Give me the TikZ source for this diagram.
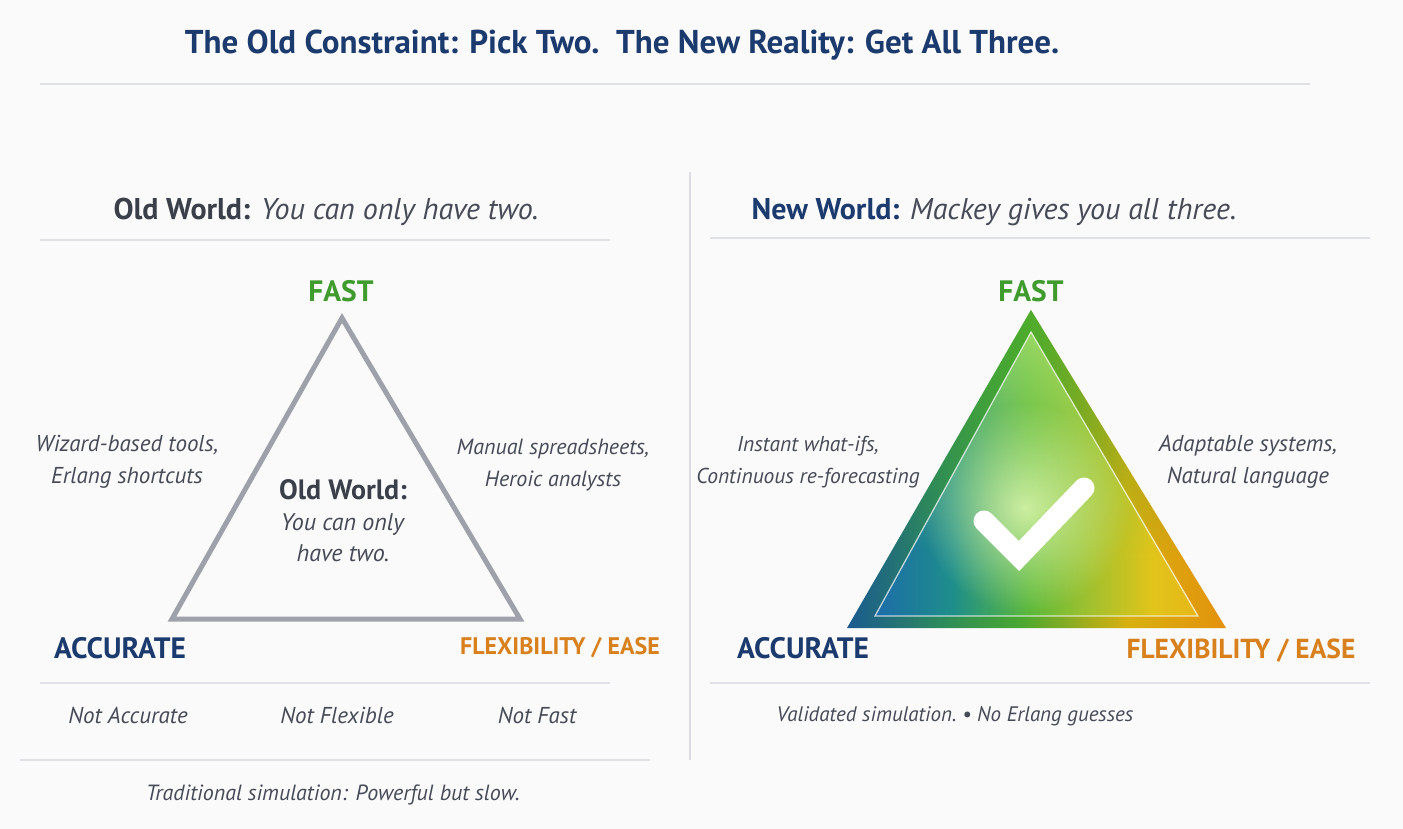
\documentclass[tikz,border=0pt]{standalone}
\usepackage{fontspec}
\setmainfont{PT Sans}
\usetikzlibrary{fadings}
\definecolor{bg}{HTML}{FAFAFB}
\definecolor{navy}{HTML}{1B3A6E}
\definecolor{txt}{HTML}{474B57}
\definecolor{headgray}{HTML}{3A3F4A}
\definecolor{fastgreen}{HTML}{3E9B2C}
\definecolor{flexorange}{HTML}{D8801C}
\definecolor{tri}{HTML}{9EA1AA}
\definecolor{rulec}{HTML}{E0E0E7}
\definecolor{divc}{HTML}{DCDCE2}
\definecolor{gA}{HTML}{1A4C9E}
\definecolor{gA2}{HTML}{1C64B0}
\definecolor{gB}{HTML}{1E8E8A}
\definecolor{gC}{HTML}{5CB83A}
\definecolor{gC2}{HTML}{98C030}
\definecolor{gD}{HTML}{E2C41A}
\definecolor{gE}{HTML}{EC9A12}
\definecolor{gF}{HTML}{EA8A10}
\definecolor{bA}{HTML}{123A85}
\definecolor{bA2}{HTML}{1A5A90}
\definecolor{bB}{HTML}{2E8C5A}
\definecolor{bC}{HTML}{4AA830}
\definecolor{bD}{HTML}{D8B010}
\definecolor{bE}{HTML}{E8860A}
\definecolor{bF}{HTML}{E07808}
\definecolor{toplight}{HTML}{C0EC80}
\definecolor{midgreen}{HTML}{56B632}
\definecolor{bordergreen}{HTML}{4CAE2C}
\definecolor{bordergreen2}{HTML}{3E9E30}
\definecolor{glowc}{HTML}{E8FBB8}
\pgfdeclarehorizontalshading{innergrad}{100bp}{color(0bp)=(gA); color(22bp)=(gA2); color(37bp)=(gB); color(49bp)=(gC); color(57bp)=(gC2); color(68bp)=(gD); color(90bp)=(gE); color(100bp)=(gF)}
\pgfdeclarehorizontalshading{bordergrad}{100bp}{color(0bp)=(bA); color(25bp)=(bA2); color(38bp)=(bB); color(48bp)=(bC); color(62bp)=(bD); color(80bp)=(bE); color(100bp)=(bF)}
\pgfdeclarehorizontalshading{rulegrad}{100bp}{color(0bp)=(bg); color(25bp)=(rulec); color(75bp)=(rulec); color(100bp)=(bg)}
\pgfdeclareverticalshading{topmasksh}{100bp}{color(0bp)=(black); color(36bp)=(black); color(100bp)=(white)}
\pgfdeclarefading{topmask}{\pgfuseshading{topmasksh}}
\tikzfading[name=fadeout, inner color=transparent!0, outer color=transparent!100]
\tikzset{
  titletext/.style={font=\fontsize{33}{38}\selectfont\bfseries, text=navy},
  headtext/.style={font=\fontsize{30}{34}\selectfont, text=txt, anchor=west},
  vertexlbl/.style={font=\fontsize{29.5}{34}\selectfont\bfseries},
  sidelbl/.style={font=\fontsize{23}{32}\selectfont\itshape, text=txt, align=center},
  notelbl/.style={font=\fontsize{23}{28}\selectfont\itshape, text=txt},
  seprule/.style={shading=rulegrad},
}
\newcommand\sepline[3]{\shade[seprule] (#1,#3-0.8) rectangle (#2,#3+0.8);}
\begin{document}
\begin{tikzpicture}[x=1pt,y=-1pt]
\useasboundingbox (0,0) rectangle (1403,829);
\fill[bg] (0,0) rectangle (1403,829);

% title
\node[titletext] (title) at (622,45) {The Old Constraint: Pick Two.\ \ The New Reality: Get All Three.};
\sepline{40}{1310}{84}
\draw[divc, line width=1.3] (690,172) -- (690,760);

% ---------- left panel ----------
\node[headtext] (oldhead) at (110,212) {\textcolor{headgray}{\textbf{Old World:}} \textit{You can only have two.}};
\sepline{40}{610}{240}

\coordinate (LA) at (342,318);
\coordinate (LB) at (172,619);
\coordinate (LC) at (520,619);
\draw[tri, line width=5, line join=miter] (LA) -- (LB) -- (LC) -- cycle;

\node[vertexlbl, text=fastgreen] (lfast) at (341,291) {FAST};
\node[vertexlbl, text=navy] (lacc) at (120,648) {ACCURATE};
\node[vertexlbl, text=flexorange, font=\fontsize{24}{28}\selectfont\bfseries] (lflex) at (560,648) {FLEXIBILITY / EASE};

\node[sidelbl] (lleft) at (127,462) {Wizard-based tools,\\Erlang shortcuts};
\node[sidelbl, font=\fontsize{22}{32}\selectfont\itshape] (lright) at (553,465) {Manual spreadsheets,\\Heroic analysts};
\node[sidelbl, font=\fontsize{24}{31}\selectfont] (lcenter) at (343,521)
  {\textcolor{headgray}{\fontsize{28}{31}\selectfont\bfseries Old World:}\\\textit{You can only}\\\textit{have two.}};

\sepline{40}{610}{683}
\node[notelbl] (nacc) at (128,715) {Not Accurate};
\node[notelbl] (nflex) at (337,715) {Not Flexible};
\node[notelbl] (nfast) at (537,715) {Not Fast};
\sepline{20}{650}{760}
\node[notelbl, font=\fontsize{22}{26}\selectfont\itshape] (trad) at (333,795) {Traditional simulation: Powerful but slow.};

% ---------- right panel ----------
\node[headtext] (newhead) at (748,212) {\textcolor{navy}{\textbf{New World:}} \textit{Mackey gives you all three.}};
\sepline{710}{1370}{238}

\coordinate (RA) at (1031,310);
\coordinate (RB) at (847,628);
\coordinate (RC) at (1226,628);
\coordinate (IA) at (1031,332);
\coordinate (IB) at (875,616);
\coordinate (IC) at (1198,616);

% border band
\shade[shading=bordergrad] (RA) -- (RB) -- (RC) -- cycle;
\shade[top color=bordergreen, bottom color=bordergreen2, path fading=topmask] (RA) -- (RB) -- (RC) -- cycle;
% inner fill
\begin{scope}
  \clip (IA) -- (IB) -- (IC) -- cycle;
  \shade[shading=innergrad] (IB |- IA) rectangle (IC);
  \shade[top color=toplight, bottom color=midgreen, path fading=topmask] (IB |- IA) rectangle (IC);
  \fill[glowc, path fading=fadeout, opacity=0.8] (1025,508) circle (105);
\end{scope}
\draw[white, opacity=0.7, line width=1.3] (IA) -- (IB) -- (IC) -- cycle;

% checkmark
\coordinate (CK1) at (984,521);
\coordinate (CK2) at (1019,556);
\coordinate (CK3) at (1084,488);
\draw[white, line width=21, line cap=round, line join=miter] (CK1) -- (CK2) -- (CK3);

\node[vertexlbl, text=fastgreen] (rfast) at (1031,291) {FAST};
\node[vertexlbl, text=navy] (racc) at (803,648) {ACCURATE};
\node[vertexlbl, text=flexorange, font=\fontsize{27.5}{32}\selectfont\bfseries] (rflex) at (1241,651) {FLEXIBILITY / EASE};

\node[sidelbl, font=\fontsize{21.5}{32}\selectfont\itshape] (rleft) at (808,462) {Instant what-ifs,\\Continuous re-forecasting};
\node[sidelbl] (rright) at (1248,462) {Adaptable systems,\\Natural language};

\sepline{710}{1370}{683}
\node[notelbl, font=\fontsize{21}{26}\selectfont\itshape] (valid) at (955,716) {Validated simulation.\ \textbullet\ No Erlang guesses};
\end{tikzpicture}
\end{document}
